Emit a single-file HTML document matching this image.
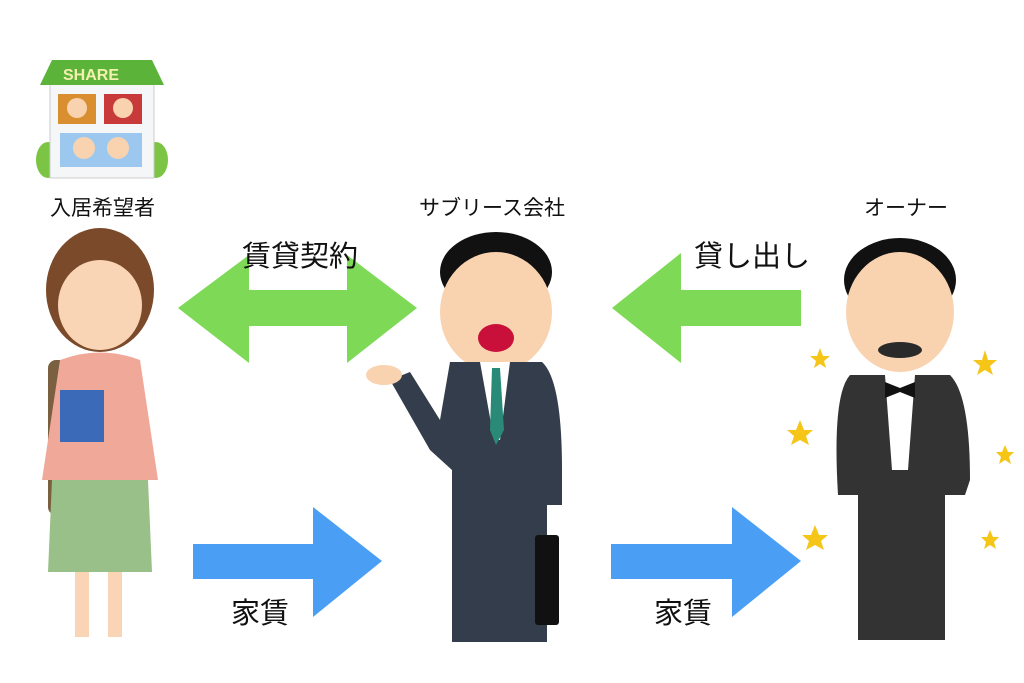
<!DOCTYPE html>
<html><head><meta charset="utf-8"><style>
html,body{margin:0;padding:0;background:#fff;}
svg{display:block}
text{font-family:"Liberation Sans","Noto Sans CJK JP",sans-serif;fill:#111}
</style></head><body>
<svg width="1024" height="683" viewBox="0 0 1024 683" xmlns="http://www.w3.org/2000/svg">
<polygon fill="#7ed957" points="178,308 249,255 249,290 347,290 347,255 417,308 347,363 347,326 249,326 249,363"/>
<polygon fill="#7ed957" points="612,308 681,253 681,290 801,290 801,326 681,326 681,363"/>
<polygon fill="#4a9ff5" points="193,544 313,544 313,507 382,561 313,617 313,579 193,579"/>
<polygon fill="#4a9ff5" points="611,544 732,544 732,507 801,561 732,617 732,579 611,579"/>
<text x="242" y="266" font-size="29">賃貸契約</text>
<text x="694" y="266" font-size="29">貸し出し</text>
<text x="231" y="623" font-size="29">家賃</text>
<text x="654" y="623" font-size="29">家賃</text>
<text x="50" y="215" font-size="21">入居希望者</text>
<text x="419" y="215" font-size="21">サブリース会社</text>
<text x="864" y="215" font-size="21">オーナー</text>
<ellipse cx="48" cy="160" rx="12" ry="18" fill="#7cc444"/>
<ellipse cx="156" cy="160" rx="12" ry="18" fill="#7cc444"/>
<rect x="50" y="82" width="104" height="96" fill="#f4f6f8" stroke="#ccc"/>
<polygon points="40,85 52,60 152,60 164,85" fill="#5cb33a"/>
<text x="63" y="80" font-size="16" font-weight="bold" style="fill:#f4f0b0">SHARE</text>
<rect x="58" y="94" width="38" height="30" fill="#d98f30"/>
<rect x="104" y="94" width="38" height="30" fill="#c83a3a"/>
<rect x="60" y="133" width="82" height="34" fill="#9cc8f0"/>
<circle cx="77" cy="108" r="10" fill="#f9d3b0"/><circle cx="123" cy="108" r="10" fill="#f9d3b0"/>
<circle cx="84" cy="148" r="11" fill="#f9d3b0"/><circle cx="118" cy="148" r="11" fill="#f9d3b0"/>
<ellipse cx="100" cy="290" rx="54" ry="62" fill="#7a4a2a"/>
<ellipse cx="100" cy="305" rx="42" ry="45" fill="#f9d5b5"/>
<rect x="48" y="360" width="22" height="155" rx="8" fill="#7a6040"/>
<path d="M60,360 Q100,345 140,360 L158,480 L42,480 Z" fill="#f0a898"/>
<path d="M52,480 L148,480 L152,572 L48,572 Z" fill="#98c088"/>
<rect x="75" y="572" width="14" height="65" fill="#f9d5b5"/><rect x="108" y="572" width="14" height="65" fill="#f9d5b5"/>
<rect x="60" y="390" width="44" height="52" fill="#3a6ab8"/>
<ellipse cx="496" cy="272" rx="56" ry="40" fill="#111"/>
<ellipse cx="496" cy="312" rx="56" ry="60" fill="#f9d3b0"/>
<ellipse cx="496" cy="338" rx="18" ry="14" fill="#c8103a"/>
<path d="M450,362 L542,362 Q562,380 562,470 L562,505 L452,505 L452,470 L430,450 L390,380 L410,372 L440,420 Z" fill="#333d4c"/>
<polygon points="480,362 510,362 500,440 494,440" fill="#fff"/>
<polygon points="492,368 500,368 504,430 496,445 490,430" fill="#2a8a78"/>
<rect x="452" y="505" width="95" height="137" fill="#333d4c"/>
<ellipse cx="384" cy="375" rx="18" ry="10" fill="#f9d3b0"/>
<rect x="535" y="535" width="24" height="90" rx="3" fill="#111"/>
<ellipse cx="900" cy="280" rx="56" ry="42" fill="#111"/>
<ellipse cx="900" cy="312" rx="54" ry="60" fill="#f9d3b0"/>
<ellipse cx="900" cy="350" rx="22" ry="8" fill="#2a2a2a"/>
<path d="M850,375 L950,375 Q970,395 970,480 L965,495 L945,495 L945,640 L858,640 L858,495 L838,495 Q832,395 850,375 Z" fill="#333"/>
<polygon points="885,375 915,375 908,470 892,470" fill="#fff"/>
<polygon points="885,382 900,388 915,382 915,398 900,392 885,398" fill="#111"/>
<g fill="#f5c518">
<polygon points="820,348 823,356 830,356 824,361 826,368 820,364 814,368 816,361 810,356 817,356"/>
<polygon points="985,350 988,360 997,360 990,366 993,375 985,370 977,375 980,366 973,360 982,360"/>
<polygon points="800,420 804,430 813,430 806,436 809,445 800,440 791,445 794,436 787,430 796,430"/>
<polygon points="1005,445 1008,452 1014,452 1009,457 1011,464 1005,460 999,464 1001,457 996,452 1002,452"/>
<polygon points="815,525 819,535 828,535 821,541 824,550 815,545 806,550 809,541 802,535 811,535"/>
<polygon points="990,530 993,537 999,537 994,542 996,549 990,545 984,549 986,542 981,537 987,537"/>
</g>
</svg>
</body></html>
